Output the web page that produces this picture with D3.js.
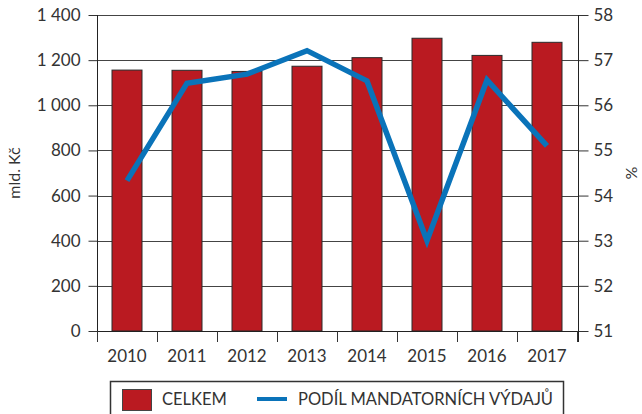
<!DOCTYPE html>
<html><head><meta charset="utf-8">
<script src="https://cdn.jsdelivr.net/npm/d3@7"></script>
<style>
body{margin:0;background:#fff;}
text{font-family:Lato,"Open Sans",sans-serif;fill:#333;font-weight:400;}
</style></head>
<body>
<svg id="chart" width="642" height="414"></svg>
<script>
const years = ["2010","2011","2012","2013","2014","2015","2016","2017"];
const celkem = [1156, 1155, 1150, 1173, 1211, 1297, 1221, 1279];
const podil = [54.33, 56.49, 56.69, 57.21, 56.54, 53.0, 56.56, 55.10];
const leftTicks = [0,200,400,600,800,1000,1200,1400];
const rightTicks = [51,52,53,54,55,56,57,58];
const seriesNames = ["CELKEM","PODÍL MANDATORNÍCH VÝDAJŮ"];

const svg = d3.select("#chart");
const L = 97, R = 578, T = 15, B = 331;
const x = d3.scaleBand().domain(years).range([L, 577]).paddingInner(0.5).paddingOuter(0.25);
const yL = d3.scaleLinear().domain([0,1400]).range([B, T]);
const yR = d3.scaleLinear().domain([51,58]).range([B, T]);
const fmtL = d => d >= 1000 ? String(d).replace(/^(\d)(\d{3})$/, "$1 $2") : String(d);

// gridlines
svg.append("g").selectAll("line").data(leftTicks.filter(d=>d>0)).join("line")
  .attr("x1", L).attr("x2", R)
  .attr("y1", d => Math.round(yL(d))+0.5).attr("y2", d => Math.round(yL(d))+0.5)
  .attr("stroke", "#444").attr("stroke-width", 1);

// bars
svg.append("g").selectAll("rect").data(years).join("rect")
  .attr("x", d => x(d)).attr("width", x.bandwidth())
  .attr("y", (d,i) => yL(celkem[i])).attr("height", (d,i) => B - yL(celkem[i]))
  .attr("fill", "#BA1A21").attr("stroke", "#2a2a2a").attr("stroke-width", 1);

// left axis
const gl = svg.append("g").attr("transform", `translate(${L+0.5},0)`)
  .call(d3.axisLeft(yL).tickValues(leftTicks).tickFormat(fmtL).tickSize(9).tickPadding(8));
gl.select(".domain").remove();
gl.selectAll(".tick line").attr("stroke", "#333");
gl.selectAll("text").style("font-size", "17px").attr("fill", "#333");
svg.append("line").attr("x1", L+0.5).attr("x2", L+0.5).attr("y1", T).attr("y2", 342).attr("stroke", "#222");

// right axis
const gr = svg.append("g").attr("transform", `translate(${R+0.5},0)`)
  .call(d3.axisRight(yR).tickValues(rightTicks).tickFormat(d3.format("d")).tickSize(10).tickPadding(5));
gr.select(".domain").remove();
gr.selectAll(".tick line").attr("stroke", "#333");
gr.selectAll("text").style("font-size", "17px").attr("fill", "#333");
svg.append("line").attr("x1", R+0.5).attr("x2", R+0.5).attr("y1", T).attr("y2", 342).attr("stroke", "#222");

// bottom axis
svg.append("line").attr("x1", L).attr("x2", R+1).attr("y1", B+0.5).attr("y2", B+0.5).attr("stroke", "#222");
const bounds = years.map(d => x(d) - x.step()*0.25).concat([577]);
svg.append("g").selectAll("line").data(bounds).join("line")
  .attr("x1", d => Math.round(d)+0.5).attr("x2", d => Math.round(d)+0.5)
  .attr("y1", B).attr("y2", 342).attr("stroke", "#333");
svg.append("g").selectAll("text").data(years).join("text")
  .attr("x", d => x(d) + x.bandwidth()/2).attr("y", 362)
  .attr("text-anchor", "middle").style("font-size", "17px").text(d => d);

// line
const line = d3.line().x((d,i) => x(years[i]) + x.bandwidth()/2).y(d => yR(d));
svg.append("path").datum(podil).attr("d", line)
  .attr("fill", "none").attr("stroke", "#0A73B9").attr("stroke-width", 5.5)
  .attr("stroke-linejoin", "miter").attr("stroke-miterlimit", 10);

// axis titles
svg.append("text").attr("transform", `translate(20,173) rotate(-90)`)
  .attr("text-anchor", "middle").style("font-size", "16px").text("mld. Kč");
svg.append("text").attr("transform", `translate(637,173) rotate(-90)`)
  .attr("text-anchor", "middle").style("font-size", "16px").text("%");

// legend
svg.append("rect").attr("x", 110.5).attr("y", 381.5).attr("width", 453).attr("height", 40)
  .attr("fill", "none").attr("stroke", "#333").attr("stroke-width", 1.5);
svg.append("rect").attr("x", 122.5).attr("y", 389.5).attr("width", 29).attr("height", 21)
  .attr("fill", "#BA1A21").attr("stroke", "#444");
svg.append("text").attr("x", 162).attr("y", 405).style("font-size", "16.5px").text(seriesNames[0]);
svg.append("line").attr("x1", 257).attr("x2", 287).attr("y1", 399).attr("y2", 399)
  .attr("stroke", "#0A73B9").attr("stroke-width", 4);
svg.append("text").attr("x", 298).attr("y", 405).style("font-size", "16.5px").text(seriesNames[1]);
</script>
</body></html>
